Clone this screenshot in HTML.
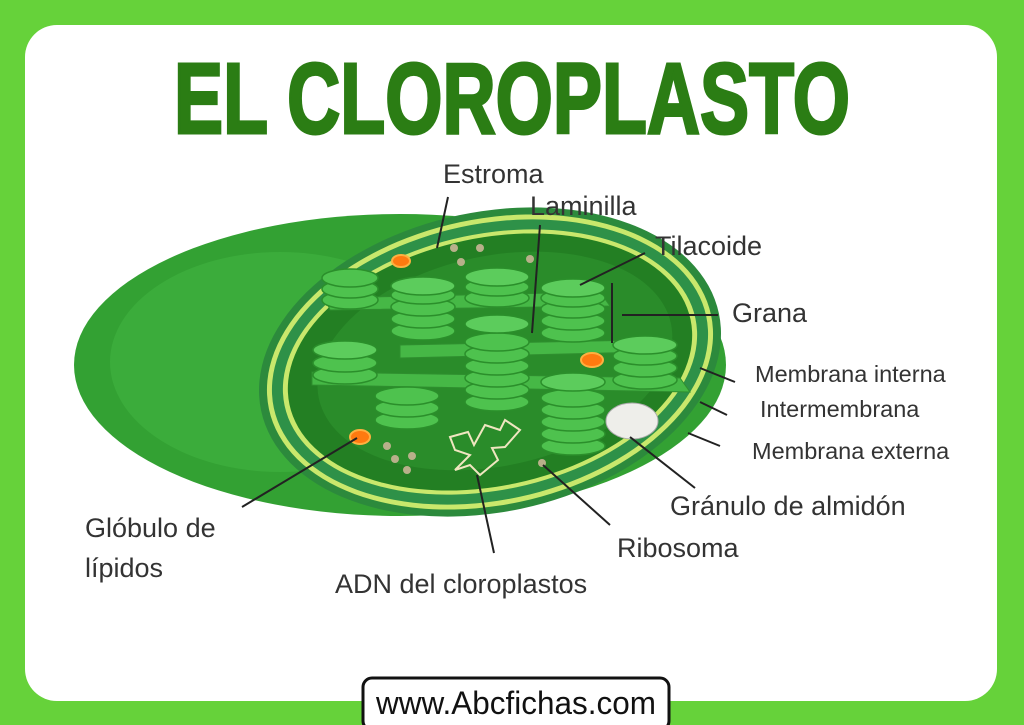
<!DOCTYPE html>
<html><head><meta charset="utf-8"><style>
html,body{margin:0;padding:0;background:#66d23a;}
svg{display:block}
text{font-family:"Liberation Sans",sans-serif;fill:#333;}
</style></head><body>
<svg width="1024" height="725" viewBox="0 0 1024 725" xmlns="http://www.w3.org/2000/svg">
<rect x="0" y="0" width="1024" height="725" fill="#66d23a"/>
<rect x="25" y="25" width="972" height="676" rx="32" fill="#fff"/>
<text x="512" y="133" text-anchor="middle" font-size="100" font-weight="bold" style="fill:#2b7d14;stroke:#2b7d14;stroke-width:3;font-family:'Liberation Sans Narrow','Liberation Sans',sans-serif" textLength="676" lengthAdjust="spacingAndGlyphs">EL CLOROPLASTO</text>

<ellipse cx="400" cy="365" rx="326" ry="151" fill="#33a133"/>
<ellipse cx="280" cy="362" rx="170" ry="110" fill="#3fb03f" opacity="0.7"/>
<g transform="rotate(-12 490 362)">
<ellipse cx="490" cy="362" rx="234" ry="150" fill="#2c8a3c"/>
<ellipse cx="490" cy="362" rx="226" ry="143" fill="#c9e86c"/>
<ellipse cx="490" cy="362" rx="221" ry="138" fill="#2e9148"/>
<ellipse cx="490" cy="362" rx="210" ry="128" fill="#c9e86c"/>
<ellipse cx="490" cy="362" rx="205" ry="124" fill="#237f23"/>
<ellipse cx="495" cy="362" rx="180" ry="105" fill="#2a8c2a"/>
</g>
<g fill="#46b846" stroke="#2f8f2f" stroke-width="1">
<path d="M325 298 L600 292 L610 306 L330 310 Z"/>
<path d="M400 345 L640 340 L645 352 L400 358 Z"/>
<path d="M312 372 L680 378 L690 392 L312 385 Z"/>
</g>
<g fill="#4ec24e" stroke="#2b8f2b" stroke-width="1.5">
<ellipse cx="350" cy="300" rx="28" ry="9"/><ellipse cx="350" cy="289" rx="28" ry="9"/><ellipse cx="350" cy="278" rx="28" ry="9"/>
<ellipse cx="423" cy="331" rx="32" ry="9"/><ellipse cx="423" cy="319" rx="32" ry="9"/><ellipse cx="423" cy="307" rx="32" ry="9"/><ellipse cx="423" cy="295" rx="32" ry="9"/><ellipse cx="423" cy="286" rx="32" ry="9" fill="#5ccc5c"/>
<ellipse cx="497" cy="298" rx="32" ry="9"/><ellipse cx="497" cy="287" rx="32" ry="9"/><ellipse cx="497" cy="277" rx="32" ry="9" fill="#5ccc5c"/>
<ellipse cx="573" cy="333" rx="32" ry="9"/><ellipse cx="573" cy="321" rx="32" ry="9"/><ellipse cx="573" cy="309" rx="32" ry="9"/><ellipse cx="573" cy="298" rx="32" ry="9"/><ellipse cx="573" cy="288" rx="32" ry="9" fill="#5ccc5c"/>
<ellipse cx="407" cy="420" rx="32" ry="9"/><ellipse cx="407" cy="408" rx="32" ry="9"/><ellipse cx="407" cy="396" rx="32" ry="9"/>
<ellipse cx="497" cy="402" rx="32" ry="9"/><ellipse cx="497" cy="390" rx="32" ry="9"/><ellipse cx="497" cy="378" rx="32" ry="9"/><ellipse cx="497" cy="366" rx="32" ry="9"/><ellipse cx="497" cy="354" rx="32" ry="9"/><ellipse cx="497" cy="342" rx="32" ry="9"/><ellipse cx="497" cy="324" rx="32" ry="9" fill="#5ccc5c"/>
<ellipse cx="345" cy="375" rx="32" ry="9"/><ellipse cx="345" cy="363" rx="32" ry="9"/><ellipse cx="345" cy="350" rx="32" ry="9" fill="#5ccc5c"/>
<ellipse cx="645" cy="380" rx="32" ry="9"/><ellipse cx="645" cy="368" rx="32" ry="9"/><ellipse cx="645" cy="356" rx="32" ry="9"/><ellipse cx="645" cy="345" rx="32" ry="9" fill="#5ccc5c"/>
<ellipse cx="573" cy="446" rx="32" ry="9"/><ellipse cx="573" cy="434" rx="32" ry="9"/><ellipse cx="573" cy="422" rx="32" ry="9"/><ellipse cx="573" cy="410" rx="32" ry="9"/><ellipse cx="573" cy="398" rx="32" ry="9"/><ellipse cx="573" cy="382" rx="32" ry="9" fill="#5ccc5c"/>
</g>
<ellipse cx="632" cy="421" rx="26" ry="18" fill="#eeeeea" stroke="#aaa"/>
<g fill="#ff7a10" stroke="#ffb040" stroke-width="2">
<ellipse cx="401" cy="261" rx="9" ry="6"/><ellipse cx="592" cy="360" rx="11" ry="7"/><ellipse cx="360" cy="437" rx="10" ry="7"/>
</g>
<g fill="#b8b08a">
<circle cx="454" cy="248" r="4"/><circle cx="480" cy="248" r="4"/><circle cx="461" cy="262" r="4"/><circle cx="530" cy="259" r="4"/>
<circle cx="387" cy="446" r="4"/><circle cx="395" cy="459" r="4"/><circle cx="412" cy="456" r="4"/><circle cx="407" cy="470" r="4"/><circle cx="542" cy="463" r="4"/>
</g>
<path d="M450 437 L468 432 L474 445 L485 425 L500 430 L505 420 L520 430 L505 447 L492 448 L498 460 L480 475 L470 465 L455 470 L470 455 L455 450 Z" fill="none" stroke="#f0e6c0" stroke-width="2"/>

<g stroke="#222" stroke-width="2" fill="none">
<line x1="448" y1="197" x2="437" y2="248"/>
<line x1="540" y1="225" x2="532" y2="333"/>
<line x1="645" y1="253" x2="580" y2="285"/>
<line x1="718" y1="315" x2="622" y2="315"/>
<line x1="612" y1="283" x2="612" y2="343"/>
<line x1="735" y1="382" x2="700" y2="368"/>
<line x1="727" y1="415" x2="700" y2="402"/>
<line x1="720" y1="446" x2="688" y2="433"/>
<line x1="695" y1="488" x2="630" y2="437"/>
<line x1="610" y1="525" x2="543" y2="465"/>
<line x1="494" y1="553" x2="477" y2="475"/>
<line x1="242" y1="507" x2="357" y2="438"/>
</g>
<g font-size="27">
<text x="443" y="183">Estroma</text>
<text x="530" y="215">Laminilla</text>
<text x="655" y="255">Tilacoide</text>
<text x="732" y="322">Grana</text>
<text x="755" y="382" font-size="23.5">Membrana interna</text>
<text x="760" y="417" font-size="23.5">Intermembrana</text>
<text x="752" y="459" font-size="23.5">Membrana externa</text>
<text x="670" y="515">Gránulo de almidón</text>
<text x="617" y="557">Ribosoma</text>
<text x="335" y="593">ADN del cloroplastos</text>
<text x="85" y="537">Glóbulo de</text>
<text x="85" y="577">lípidos</text>
</g>
<rect x="363" y="678" width="306" height="52" rx="9" fill="#fff" stroke="#111" stroke-width="3"/>
<text x="516" y="714" text-anchor="middle" font-size="32" style="fill:#111" textLength="280" lengthAdjust="spacingAndGlyphs">www.Abcfichas.com</text>
</svg>
</body></html>
